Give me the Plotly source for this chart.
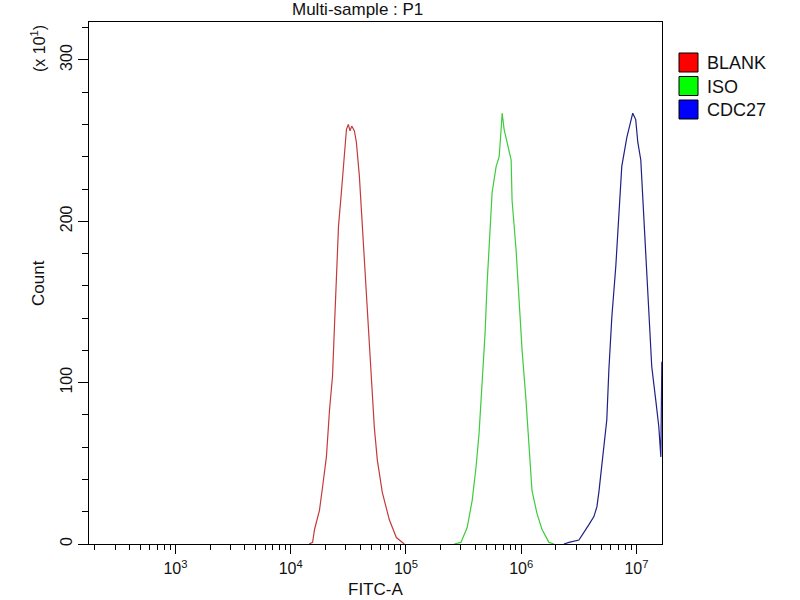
import plotly.graph_objects as go

# ---------------- data ----------------
series_names = ["BLANK", "ISO", "CDC27"]

# FITC-A positions given as log10 values, counts in units of x10^1
blank_log_fitc = [4.16, 4.19, 4.207, 4.25, 4.276, 4.31, 4.337, 4.363, 4.38, 4.397,
                  4.415, 4.44, 4.466, 4.484, 4.50, 4.515, 4.53, 4.553, 4.57, 4.596,
                  4.622, 4.648, 4.674, 4.70, 4.726, 4.752, 4.795, 4.856, 4.917, 4.986]
blank_count = [0, 1, 9, 21, 35, 54, 83, 104, 135, 166,
               197, 218, 244, 257, 260, 256, 259, 256, 249, 228,
               197, 166, 135, 104, 72, 52, 32, 15, 4, 0]

iso_log_fitc = [5.419, 5.477, 5.531, 5.575, 5.609, 5.635, 5.661, 5.687, 5.705, 5.731,
                5.748, 5.783, 5.809, 5.826, 5.835, 5.852, 5.878, 5.913, 5.921, 5.956,
                5.982, 6.008, 6.042, 6.068, 6.094, 6.137, 6.181, 6.241, 6.285]
iso_count = [0, 1, 10, 27, 48, 69, 100, 131, 162, 193,
             218, 234, 240, 257, 267, 257, 249, 238, 213, 182,
             151, 120, 89, 58, 33, 19, 9, 1, 0]

cdc27_log_fitc = [6.371, 6.414, 6.501, 6.544, 6.588, 6.631, 6.657, 6.674, 6.692, 6.70,
                  6.718, 6.743, 6.761, 6.787, 6.821, 6.847, 6.873, 6.917, 6.951, 6.968,
                  6.994, 7.012, 7.038, 7.064, 7.090, 7.107, 7.133, 7.168, 7.194, 7.212,
                  7.2205]
cdc27_count = [0, 1, 2.5, 7, 12, 17, 23, 32, 44, 50,
               62, 77, 108, 141, 172, 203, 234, 252, 261, 267,
               263, 249, 238, 203, 172, 141, 110, 89, 73, 54,
               113]

x_tick_exponents = [3, 4, 5, 6, 7]
x_tick_labels = ["10<sup>3</sup>", "10<sup>4</sup>", "10<sup>5</sup>",
                 "10<sup>6</sup>", "10<sup>7</sup>"]
y_tick_values = [0, 100, 200, 300]
y_tick_labels = ["0", "100", "200", "300"]

# ---------------- styling ----------------
line_colors = ["#c43a3a", "#3ccc3c", "#1f1f85"]
legend_colors = ["#ff0000", "#00ff00", "#0000ff"]
FONT = "Liberation Sans, Arial, sans-serif"

X_RANGE = [2.25, 7.222]
Y_RANGE = [0, 323.5]

W, H = 800, 600
L, R, T, B = 89, 138, 22, 56
PW, PH = W - L - R, H - T - B


def px_x(px):
    return (px - L) / PW


def px_y(py):
    return (H - B - py) / PH


fig = go.Figure()
all_x = [blank_log_fitc, iso_log_fitc, cdc27_log_fitc]
all_y = [blank_count, iso_count, cdc27_count]
for name, xs, ys, col in zip(series_names, all_x, all_y, line_colors):
    fig.add_trace(go.Scatter(
        x=[10 ** v for v in xs], y=ys, mode="lines", name=name,
        line=dict(color=col, width=1.2), showlegend=False,
        cliponaxis=True,
    ))

minor_vals = [m * 10 ** k for k in range(2, 7) for m in range(2, 10)
              if m * 10 ** k > 10 ** X_RANGE[0]]

fig.update_layout(
    width=W, height=H,
    margin=dict(l=L, r=R, t=T, b=B, pad=0),
    paper_bgcolor="white", plot_bgcolor="white",
    font=dict(family=FONT, size=16, color="#111"),
    xaxis=dict(
        type="log", range=X_RANGE,
        tickvals=[10 ** e for e in x_tick_exponents], ticktext=x_tick_labels,
        ticks="outside", ticklen=9, tickwidth=1, tickcolor="black",
        minor=dict(tickvals=minor_vals, ticks="outside", ticklen=5,
                   tickwidth=1, tickcolor="black", showgrid=False),
        showgrid=False, zeroline=False,
        showline=True, linecolor="black", linewidth=1.2, mirror=True,
        tickfont=dict(size=16, family=FONT), ticklabelstandoff=1,
    ),
    yaxis=dict(
        range=Y_RANGE, tickvals=y_tick_values, ticktext=y_tick_labels,
        tickangle=-90,
        ticks="outside", ticklen=10, tickwidth=1, tickcolor="black",
        minor=dict(dtick=20, ticks="outside", ticklen=6, tickwidth=1,
                   tickcolor="black", showgrid=False),
        showgrid=False, zeroline=False,
        showline=True, linecolor="black", linewidth=1.2, mirror=True,
        tickfont=dict(size=16, family=FONT),
    ),
)

annotations = [
    dict(text="Multi-sample : P1", x=px_x(290), y=px_y(9), xref="paper", yref="paper",
         xanchor="left", yanchor="middle", showarrow=False,
         font=dict(size=17, family=FONT, color="#111")),
    dict(text="FITC-A", x=px_x(375), y=px_y(589), xref="paper", yref="paper",
         xanchor="center", yanchor="middle", showarrow=False,
         font=dict(size=17, family=FONT, color="#111")),
    dict(text="Count", x=px_x(38), y=px_y(283), xref="paper", yref="paper",
         xanchor="center", yanchor="middle", showarrow=False, textangle=-90,
         font=dict(size=17, family=FONT, color="#111")),
    dict(text="(x 10<sup>1</sup>)", x=px_x(38), y=px_y(49), xref="paper", yref="paper",
         xanchor="center", yanchor="middle", showarrow=False, textangle=-90,
         font=dict(size=16, family=FONT, color="#111")),
]

shapes = []
row_tops = [53, 76.5, 100]
for name, col, top in zip(series_names, legend_colors, row_tops):
    shapes.append(dict(type="rect", xref="paper", yref="paper",
                       x0=px_x(679), x1=px_x(698), y0=px_y(top + 19), y1=px_y(top),
                       fillcolor=col, line=dict(color="black", width=1)))
    annotations.append(dict(text=name, x=px_x(705), y=px_y(top + 10),
                            xref="paper", yref="paper", xanchor="left",
                            yanchor="middle", showarrow=False,
                            font=dict(size=18, family=FONT, color="#111")))

fig.update_layout(annotations=annotations, shapes=shapes)

fig.write_html("out.html", config={"displayModeBar": False},
               post_script="document.body.style.margin='0px';")
